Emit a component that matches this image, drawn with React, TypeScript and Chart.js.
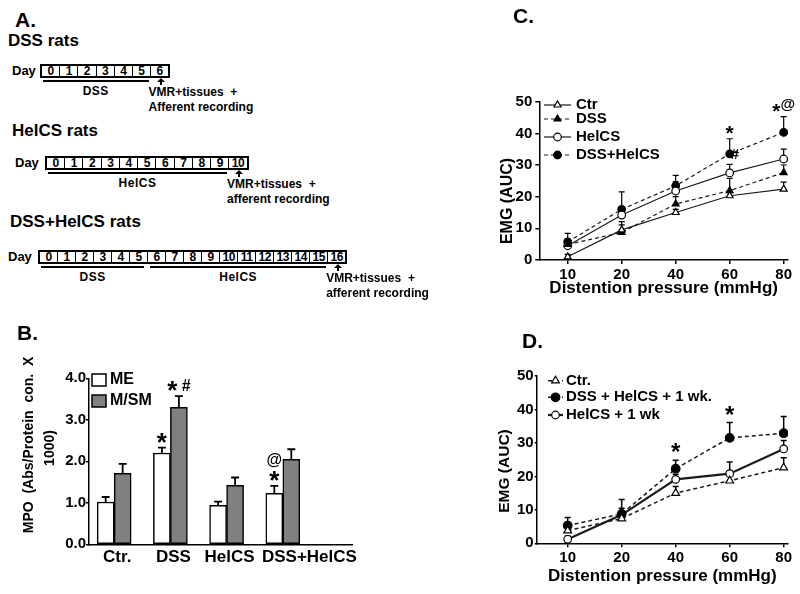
import React, { useEffect, useRef } from 'react';
import { Chart, registerables } from 'chart.js';

Chart.register(...registerables);

const FONT = '"Liberation Sans", Arial, Helvetica, sans-serif';

// ===================== Panel A: protocol schedules =====================
const dssDays = [0, 1, 2, 3, 4, 5, 6];
const helcsDays = [0, 1, 2, 3, 4, 5, 6, 7, 8, 9, 10];
const comboDays = [0, 1, 2, 3, 4, 5, 6, 7, 8, 9, 10, 11, 12, 13, 14, 15, 16];
const scheduleDays = [dssDays, helcsDays, comboDays];
const scheduleTitles = ['DSS rats', 'HelCS rats', 'DSS+HelCS rats'];
const schedulePhases = [
  [{ label: 'DSS', from: 0, to: 5 }],
  [{ label: 'HelCS', from: 0, to: 9 }],
  [
    { label: 'DSS', from: 0, to: 5 },
    { label: 'HelCS', from: 6, to: 15 },
  ],
];
const scheduleOutcomes = [
  ['VMR+tissues  +', 'Afferent recording'],
  ['VMR+tissues  +', 'afferent recording'],
  ['VMR+tissues  +', 'afferent recording'],
];

// ===================== Panel B: MPO bars =====================
const mpoGroups = ['Ctr.', 'DSS', 'HelCS', 'DSS+HelCS'];
const mpoSeries = ['ME', 'M/SM'];
const mpoME = [1.02, 2.2, 0.94, 1.23];
const mpoMEErr = [0.12, 0.13, 0.09, 0.18];
const mpoMSM = [1.71, 3.3, 1.42, 2.05];
const mpoMSMErr = [0.23, 0.27, 0.19, 0.24];
const mpoTicks = [0, 1, 2, 3, 4];
const mpoMarks = [
  { dataset: 0, index: 1, texts: ['*'] },
  { dataset: 1, index: 1, texts: ['* #'] },
  { dataset: 0, index: 3, texts: ['*', '@'] },
];
const mpoAxisTitle = ['MPO  (Abs/Protein  con.  X', '1000)'];

// ===================== Panels C & D: EMG vs pressure =====================
const pressures = ['10', '20', '40', '60', '80'];
const emgTicks = [0, 10, 20, 30, 40, 50];
const emgAxisTitle = 'EMG (AUC)';
const pressureAxisTitle = 'Distention pressure (mmHg)';

// Panel C
const cLabels = ['Ctr', 'DSS', 'HelCS', 'DSS+HelCS'];
const cCtr = [1.0, 9.5, 15.0, 20.3, 22.4];
const cCtrErr = [0.8, 1.6, 1.0, 1.0, 2.2];
const cDSS = [4.9, 8.7, 17.7, 21.9, 27.6];
const cDSSErr = [1.5, 3.4, 2.3, 3.9, 2.4];
const cHelCS = [4.5, 14.2, 21.8, 27.5, 31.9];
const cHelCSErr = [2.0, 2.0, 3.0, 2.7, 3.1];
const cCombo = [5.7, 16.0, 23.4, 33.5, 40.3];
const cComboErr = [2.7, 5.5, 3.3, 4.8, 5.0];
const cMarks = [
  { dataset: 3, index: 3, texts: ['*'] },
  { dataset: 3, index: 4, texts: ['*@'] },
  { dataset: 2, index: 3, texts: ['#'], side: 'right' },
];

// Panel D
const dLabels = ['Ctr.', 'DSS + HelCS + 1 wk.', 'HelCS + 1 wk'];
const dCtr = [3.8, 7.4, 15.0, 18.7, 22.6];
const dCtrErr = [1.5, 1.5, 2.0, 1.5, 3.0];
const dCombo = [5.3, 8.8, 22.3, 31.5, 32.9];
const dComboErr = [2.4, 4.3, 2.5, 4.6, 5.0];
const dHelCS = [1.2, 8.5, 19.1, 20.8, 28.2];
const dHelCSErr = [1.0, 2.0, 1.5, 3.5, 2.5];
const dMarks = [
  { dataset: 1, index: 2, texts: ['*'] },
  { dataset: 1, index: 3, texts: ['*'] },
];

// ===================== drawing helpers / plugins =====================
function drawMarker(ctx: any, style: string, x: number, y: number, r: number, fill: string, stroke: string, lw: number) {
  ctx.save();
  ctx.setLineDash([]);
  ctx.beginPath();
  if (style === 'triangle') {
    let a = 0;
    for (let k = 0; k < 3; k++) {
      const px = x + Math.sin(a) * r;
      const py = y - Math.cos(a) * r;
      if (k === 0) ctx.moveTo(px, py);
      else ctx.lineTo(px, py);
      a += (2 * Math.PI) / 3;
    }
    ctx.closePath();
  } else {
    ctx.arc(x, y, r, 0, Math.PI * 2);
  }
  ctx.fillStyle = fill;
  ctx.fill();
  ctx.strokeStyle = stroke;
  ctx.lineWidth = lw;
  ctx.stroke();
  ctx.restore();
}

function drawMark(ctx: any, text: string, cx: number, bottom: number, st: any, side?: string) {
  const chars = Array.from(text);
  const fontFor = (ch: string) => `bold ${ch === '*' ? st.star : st.sym}px ${FONT}`;
  const widths: number[] = [];
  let total = 0;
  chars.forEach((ch) => {
    ctx.font = fontFor(ch);
    const w = ch === ' ' ? st.sym * 0.278 : ctx.measureText(ch).width;
    widths.push(w);
    total += w;
  });
  let x = side === 'right' ? cx + 1 : cx - total / 2;
  let maxH = 0;
  ctx.save();
  ctx.fillStyle = '#000';
  ctx.textAlign = 'left';
  ctx.textBaseline = 'alphabetic';
  chars.forEach((ch, i) => {
    if (ch !== ' ') {
      ctx.font = fontFor(ch);
      const m = ctx.measureText(ch);
      ctx.fillText(ch, x, bottom - m.actualBoundingBoxDescent);
      maxH = Math.max(maxH, m.actualBoundingBoxAscent + m.actualBoundingBoxDescent);
    }
    x += widths[i];
  });
  ctx.restore();
  return maxH;
}

function errorBarsPlugin(errors: number[][], st: { cap: number; width: number; behind: boolean }) {
  const draw = (chart: any) => {
    const ctx = chart.ctx;
    const ys = chart.scales.y;
    ctx.save();
    ctx.strokeStyle = '#000';
    ctx.lineWidth = st.width;
    ctx.setLineDash([]);
    errors.forEach((errs, di) => {
      const meta = chart.getDatasetMeta(di);
      const data = chart.data.datasets[di].data;
      meta.data.forEach((el: any, i: number) => {
        const e = errs[i];
        if (!e) return;
        const top = ys.getPixelForValue(data[i].y + e);
        ctx.beginPath();
        ctx.moveTo(el.x, el.y);
        ctx.lineTo(el.x, top);
        ctx.moveTo(el.x - st.cap / 2, top);
        ctx.lineTo(el.x + st.cap / 2, top);
        ctx.stroke();
      });
    });
    ctx.restore();
  };
  return {
    id: 'errorBars',
    beforeDatasetsDraw(chart: any) {
      if (st.behind) draw(chart);
    },
    afterDatasetsDraw(chart: any) {
      if (!st.behind) draw(chart);
    },
  };
}

function marksPlugin(marks: any[], errors: number[][], st: any) {
  return {
    id: 'sigMarks',
    afterDatasetsDraw(chart: any) {
      const ctx = chart.ctx;
      const ys = chart.scales.y;
      marks.forEach((m) => {
        const el = chart.getDatasetMeta(m.dataset).data[m.index];
        const v = chart.data.datasets[m.dataset].data[m.index].y;
        const e = errors[m.dataset][m.index] || 0;
        let bottom = Math.min(el.y, ys.getPixelForValue(v + e)) - st.gap;
        m.texts.forEach((t: string) => {
          const h = drawMark(ctx, t, el.x, bottom, st, m.side);
          bottom -= h + st.stackGap;
        });
      });
    },
  };
}

function lineLegendPlugin(st: { x0: number; x1: number; textX: number; rows: number[]; size: number }) {
  return {
    id: 'lineLegend',
    afterDraw(chart: any) {
      const ctx = chart.ctx;
      chart.data.datasets.forEach((ds: any, i: number) => {
        const y = st.rows[i];
        ctx.save();
        ctx.strokeStyle = ds.borderColor;
        ctx.lineWidth = ds.borderWidth;
        ctx.setLineDash(ds.borderDash || []);
        ctx.beginPath();
        ctx.moveTo(st.x0, y);
        ctx.lineTo(st.x1, y);
        ctx.stroke();
        ctx.restore();
        drawMarker(ctx, ds.pointStyle, (st.x0 + st.x1) / 2, y, ds.pointRadius, ds.pointBackgroundColor, ds.pointBorderColor, ds.pointBorderWidth);
        ctx.save();
        ctx.fillStyle = '#000';
        ctx.font = `bold ${st.size}px ${FONT}`;
        ctx.textAlign = 'left';
        ctx.textBaseline = 'middle';
        ctx.fillText(ds.label, st.textX, y);
        ctx.restore();
      });
    },
  };
}

function boxLegendPlugin(st: { boxes: number[][]; textX: number; size: number }) {
  return {
    id: 'boxLegend',
    afterDraw(chart: any) {
      const ctx = chart.ctx;
      chart.data.datasets.forEach((ds: any, i: number) => {
        const [x, y, w, h] = st.boxes[i];
        ctx.save();
        ctx.fillStyle = ds.backgroundColor;
        ctx.fillRect(x, y, w, h);
        ctx.strokeStyle = ds.borderColor;
        ctx.lineWidth = ds.borderWidth;
        ctx.strokeRect(x, y, w, h);
        ctx.fillStyle = '#000';
        ctx.font = `bold ${st.size}px ${FONT}`;
        ctx.textAlign = 'left';
        ctx.textBaseline = 'middle';
        ctx.fillText(ds.label, st.textX, y + h / 2);
        ctx.restore();
      });
    },
  };
}

function textPlugin(items: { text: string; x: number; y: number; size: number; rotate: number }[]) {
  return {
    id: 'freeText',
    afterDraw(chart: any) {
      const ctx = chart.ctx;
      items.forEach((it) => {
        ctx.save();
        ctx.translate(it.x, it.y);
        ctx.rotate((it.rotate * Math.PI) / 180);
        ctx.font = `bold ${it.size}px ${FONT}`;
        ctx.fillStyle = '#000';
        ctx.textAlign = 'center';
        ctx.textBaseline = 'middle';
        ctx.fillText(it.text, 0, 0);
        ctx.restore();
      });
    },
  };
}

const boldFont = (size: number) => ({ family: FONT, size, weight: 'bold' as const });
const axisBorder = { display: true, color: '#000', width: 1.5 };

// ===================== chart configs =====================
function mpoConfig(): any {
  const errs = [mpoMEErr, mpoMSMErr];
  return {
    type: 'bar',
    data: {
      datasets: [
        {
          label: mpoSeries[0],
          data: mpoME.map((y, i) => ({ x: i, y })),
          backgroundColor: '#ffffff',
          borderColor: '#000',
          borderWidth: 1.5,
          borderSkipped: false,
          barThickness: 17,
        },
        {
          label: mpoSeries[1],
          data: mpoMSM.map((y, i) => ({ x: i, y })),
          backgroundColor: '#808080',
          borderColor: '#000',
          borderWidth: 1.5,
          borderSkipped: false,
          barThickness: 17,
        },
      ],
    },
    options: {
      responsive: false,
      animation: false,
      devicePixelRatio: 1,
      layout: { padding: { left: 0, top: 78.3, right: 48, bottom: 0 } },
      scales: {
        x: {
          type: 'linear',
          min: -0.448,
          max: 4.231,
          bounds: 'data',
          offset: false,
          afterBuildTicks: (s: any) => {
            s.ticks = mpoGroups.map((_, i) => ({ value: i }));
          },
          ticks: {
            autoSkip: false,
            maxRotation: 0,
            padding: 3,
            labelOffset: 3,
            color: '#000',
            font: boldFont(17),
            callback: (v: number) => {
              const l = mpoGroups[v];
              if (l === undefined) return '';
              return v === mpoGroups.length - 1 ? ' '.repeat(10) + l : l;
            },
          },
          grid: { display: false, drawTicks: false },
          border: axisBorder,
          afterFit: (s: any) => {
            s.height = 49.7;
          },
        },
        y: {
          type: 'linear',
          min: 0,
          max: 4,
          bounds: 'data',
          afterBuildTicks: (s: any) => {
            s.ticks = mpoTicks.map((v) => ({ value: v }));
          },
          ticks: {
            color: '#000',
            padding: 0,
            font: boldFont(15),
            callback: (v: number) => Number(v).toFixed(1),
          },
          grid: { display: true, drawOnChartArea: false, drawTicks: true, tickLength: 3, color: '#000', lineWidth: 1.5 },
          border: axisBorder,
          afterFit: (s: any) => {
            s.width = 89;
          },
        },
      },
      plugins: { legend: { display: false }, tooltip: { enabled: false } },
    },
    plugins: [
      errorBarsPlugin(errs, { cap: 8, width: 1.8, behind: false }),
      marksPlugin(mpoMarks, errs, { gap: 5, stackGap: 3, star: 26, sym: 16 }),
      boxLegendPlugin({ boxes: [[92, 74, 14, 12], [92, 95, 14, 12]], textX: 110, size: 16 }),
      textPlugin([
        { text: mpoAxisTitle[0], x: 29, y: 145, size: 14, rotate: -90 },
        { text: mpoAxisTitle[1], x: 50, y: 148, size: 14, rotate: -90 },
      ]),
    ],
  };
}

function lineDs(label: string, values: number[], dashed: boolean, pointStyle: string, filled: boolean, lw: number, r: number) {
  return {
    label,
    data: values.map((y, i) => ({ x: i, y })),
    borderColor: '#1a1a1a',
    borderWidth: lw,
    borderDash: dashed ? [4, 3] : [],
    pointStyle,
    pointRadius: r,
    pointHoverRadius: r,
    pointBackgroundColor: filled ? '#000' : '#fff',
    pointBorderColor: '#000',
    pointBorderWidth: 1.2,
    tension: 0,
    fill: false,
  };
}

function emgYScale(width: number, tickLen: number, pad: number, size: number) {
  return {
    type: 'linear',
    min: 0,
    max: 50,
    bounds: 'data',
    afterBuildTicks: (s: any) => {
      s.ticks = emgTicks.map((v) => ({ value: v }));
    },
    ticks: { color: '#000', padding: pad, font: boldFont(size) },
    grid: { display: true, drawOnChartArea: false, drawTicks: true, tickLength: tickLen, color: '#000', lineWidth: 1.5 },
    border: axisBorder,
    afterFit: (s: any) => {
      s.width = width;
    },
  };
}

function pressureXScale(min: number, height: number, titlePad: number) {
  return {
    type: 'linear',
    min,
    max: 4.08,
    bounds: 'data',
    offset: false,
    afterBuildTicks: (s: any) => {
      s.ticks = pressures.map((_, i) => ({ value: i }));
    },
    ticks: {
      autoSkip: false,
      maxRotation: 0,
      color: '#000',
      padding: 2,
      font: boldFont(15),
      callback: (v: number) => (pressures[v] === undefined ? '' : pressures[v]),
    },
    grid: { display: true, drawOnChartArea: false, drawTicks: true, tickLength: 4, color: '#000', lineWidth: 1.5 },
    border: axisBorder,
    title: {
      display: true,
      text: pressureAxisTitle,
      color: '#000',
      font: boldFont(17),
      padding: { top: 0, bottom: titlePad },
    },
    afterFit: (s: any) => {
      s.height = height;
    },
  };
}

function cConfig(): any {
  const errs = [cCtrErr, cDSSErr, cHelCSErr, cComboErr];
  return {
    type: 'line',
    data: {
      datasets: [
        lineDs(cLabels[0], cCtr, false, 'triangle', false, 1.2, 4),
        lineDs(cLabels[1], cDSS, true, 'triangle', true, 1.2, 4),
        lineDs(cLabels[2], cHelCS, false, 'circle', false, 1.2, 3.8),
        lineDs(cLabels[3], cCombo, true, 'circle', true, 1.2, 3.8),
      ],
    },
    options: {
      responsive: false,
      animation: false,
      devicePixelRatio: 1,
      layout: { padding: { left: 0, top: 101.7, right: 12, bottom: 0 } },
      scales: {
        x: pressureXScale(-0.526, 40, 1),
        y: emgYScale(139.3, 4, 3, 15),
      },
      plugins: { legend: { display: false }, tooltip: { enabled: false } },
    },
    plugins: [
      errorBarsPlugin(errs, { cap: 6, width: 1.2, behind: true }),
      marksPlugin(cMarks, errs, { gap: 5, stackGap: 3, star: 21, sym: 15 }),
      lineLegendPlugin({ x0: 144, x1: 171, textX: 176, rows: [105, 119, 137, 155], size: 15 }),
      textPlugin([{ text: emgAxisTitle, x: 107.5, y: 201, size: 16, rotate: -90 }]),
    ],
  };
}

function dConfig(): any {
  const errs = [dCtrErr, dComboErr, dHelCSErr];
  return {
    type: 'line',
    data: {
      datasets: [
        lineDs(dLabels[0], dCtr, true, 'triangle', false, 1.5, 4.5),
        lineDs(dLabels[1], dCombo, true, 'circle', true, 1.5, 4.3),
        lineDs(dLabels[2], dHelCS, false, 'circle', false, 2.2, 3.8),
      ],
    },
    options: {
      responsive: false,
      animation: false,
      devicePixelRatio: 1,
      layout: { padding: { left: 0, top: 76, right: 12, bottom: 0 } },
      scales: {
        x: pressureXScale(-0.574, 50.7, 7),
        y: emgYScale(136.7, 2, 1, 15),
      },
      plugins: { legend: { display: false }, tooltip: { enabled: false } },
    },
    plugins: [
      errorBarsPlugin(errs, { cap: 6, width: 1.5, behind: true }),
      marksPlugin(dMarks, errs, { gap: 8, stackGap: 3, star: 24, sym: 15 }),
      lineLegendPlugin({ x0: 148, x1: 163, textX: 166, rows: [80.7, 97.3, 115], size: 15 }),
      textPlugin([{ text: emgAxisTitle, x: 105, y: 171, size: 15.5, rotate: -90 }]),
    ],
  };
}

// ===================== React components =====================
function ChartCanvas({ left, top, width, height, make }: any) {
  const ref = useRef<HTMLCanvasElement>(null);
  useEffect(() => {
    const chart = new Chart(ref.current as HTMLCanvasElement, make());
    return () => chart.destroy();
  }, []);
  return <canvas ref={ref} width={width} height={height} style={{ position: 'absolute', left, top, width, height }} />;
}

function Txt({ x, y, size, children, center = false, spacing = 0 }: any) {
  return (
    <div
      style={{
        position: 'absolute',
        left: x,
        top: y - 0.13 * size,
        fontSize: size,
        lineHeight: `${size}px`,
        fontWeight: 700,
        fontFamily: FONT,
        whiteSpace: 'pre',
        letterSpacing: spacing,
        color: '#000',
        transform: center ? 'translateX(-50%)' : undefined,
      }}
    >
      {children}
    </div>
  );
}

function DayBox({ x, y, cw, h, days }: any) {
  return (
    <div
      style={{
        position: 'absolute',
        left: x,
        top: y,
        width: days.length * cw,
        height: h,
        border: '2px solid #000',
        boxSizing: 'border-box',
        display: 'flex',
        background: '#fff',
      }}
    >
      {days.map((d: number, i: number) => (
        <div
          key={d}
          style={{
            flex: '1 1 0',
            borderLeft: i ? '1px solid #000' : 'none',
            fontSize: 12,
            fontWeight: 700,
            fontFamily: FONT,
            lineHeight: `${h - 4}px`,
            textAlign: 'center',
            overflow: 'hidden',
            letterSpacing: -0.5,
          }}
        >
          {d}
        </div>
      ))}
    </div>
  );
}

function UpArrow({ x, y }: any) {
  return (
    <>
      <div
        style={{
          position: 'absolute',
          left: x - 4,
          top: y,
          width: 0,
          height: 0,
          borderLeft: '4px solid transparent',
          borderRight: '4px solid transparent',
          borderBottom: '4px solid #000',
        }}
      />
      <div style={{ position: 'absolute', left: x - 1, top: y + 4, width: 2, height: 3, background: '#000' }} />
    </>
  );
}

const scheduleLayout = [
  { titleX: 8, titleY: 34, dayX: 12, boxX: 40, boxY: 64, cw: 18.6 },
  { titleX: 12, titleY: 124, dayX: 15, boxX: 45, boxY: 156, cw: 18.5 },
  { titleX: 10, titleY: 215, dayX: 8, boxX: 38, boxY: 250, cw: 18.2 },
];

function PanelA() {
  const h = 14;
  return (
    <>
      <Txt x={15} y={12} size={21}>A.</Txt>
      {scheduleTitles.map((title, r) => {
        const L = scheduleLayout[r];
        const days = scheduleDays[r];
        const n = days.length;
        return (
          <React.Fragment key={title}>
            <Txt x={L.titleX} y={L.titleY} size={17}>{title}</Txt>
            <Txt x={L.dayX} y={L.boxY + 1.5} size={13}>Day</Txt>
            <DayBox x={L.boxX} y={L.boxY} cw={L.cw} h={h} days={days} />
            {schedulePhases[r].map((p) => {
              const x1 = L.boxX + p.from * L.cw + 3;
              const x2 = L.boxX + (p.to + 1) * L.cw - 3;
              return (
                <React.Fragment key={p.label}>
                  <div style={{ position: 'absolute', left: x1, top: L.boxY + h + 2, width: x2 - x1, height: 2, background: '#000' }} />
                  <Txt x={(x1 + x2) / 2} y={L.boxY + h + 9} size={12} center spacing={0.5}>
                    {p.label}
                  </Txt>
                </React.Fragment>
              );
            })}
            <UpArrow x={L.boxX + (n - 0.5) * L.cw} y={L.boxY + h} />
            <Txt x={L.boxX + (n - 1) * L.cw - 3} y={L.boxY + h + 10} size={12}>{scheduleOutcomes[r][0]}</Txt>
            <Txt x={L.boxX + (n - 1) * L.cw - 3} y={L.boxY + h + 25} size={12}>{scheduleOutcomes[r][1]}</Txt>
          </React.Fragment>
        );
      })}
    </>
  );
}

export default function App() {
  return (
    <div style={{ position: 'absolute', left: 0, top: 0, width: 800, height: 594, background: '#fff', overflow: 'hidden' }}>
      <ChartCanvas left={0} top={300} width={400} height={294} make={mpoConfig} />
      <ChartCanvas left={400} top={0} width={400} height={300} make={cConfig} />
      <ChartCanvas left={400} top={300} width={400} height={294} make={dConfig} />
      <PanelA />
      <Txt x={17} y={325} size={21}>B.</Txt>
      <Txt x={513} y={8} size={21}>C.</Txt>
      <Txt x={522} y={333} size={21}>D.</Txt>
    </div>
  );
}
